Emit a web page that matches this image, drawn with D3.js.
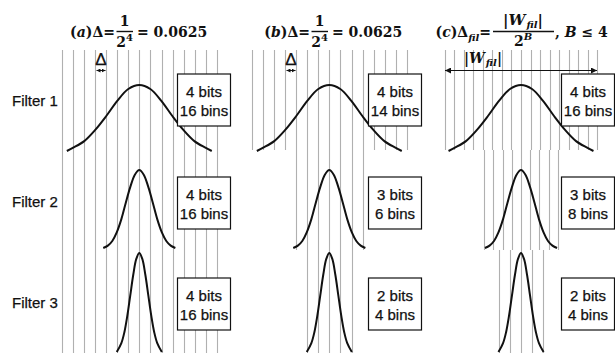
<!DOCTYPE html>
<meta charset="utf-8">
<script src="https://d3js.org/d3.v7.min.js"></script>
<style>
  body { margin: 0; background: #fff; }
  svg { display: block; }
  .lbl { font-family: 'Liberation Sans', Arial, sans-serif; fill: #111; stroke: #111; stroke-width: 0.25px; }
  .math { font-family: 'DejaVu Serif', serif; font-weight: bold; fill: #111; }
</style>
<body>
<div id="fig"></div>
<script>

  // rows of the figure
  var filters = ["Filter 1", "Filter 2", "Filter 3"];

  // what the boxes say, per panel (one entry per filter)
  var bitsA = [4, 4, 4], binsA = [16, 16, 16];
  var bitsB = [4, 3, 2], binsB = [14, 6, 4];
  var bitsC = [4, 3, 2], binsC = [16, 8, 4];

  // quantisation grid: number of bin edges drawn and bin width (weight units)
  var edgesA = [15, 15, 15], stepA = [0.0625, 0.0625, 0.0625];
  var edgesB = [15, 7, 5], stepB = [0.0625, 0.0625, 0.0625];
  var edgesC = [17, 9, 5], stepC = [0.0535, 0.052, 0.063];

  // weight distribution of each filter, half profile (weight, relative density)
  var filter1W = [0, 0.062, 0.124, 0.186, 0.248, 0.31, 0.372, 0.408];
  var filter1D = [1, 0.94, 0.76, 0.53, 0.32, 0.15, 0.05, 0];
  var filter2W = [0, 0.025, 0.051, 0.076, 0.101, 0.127, 0.152, 0.177, 0.203];
  var filter2D = [1, 0.94, 0.78, 0.58, 0.37, 0.2, 0.09, 0.03, 0];
  var filter3W = [0, 0.017, 0.034, 0.051, 0.068, 0.084, 0.101, 0.127];
  var filter3D = [1, 0.94, 0.78, 0.57, 0.36, 0.2, 0.09, 0];

  var W = 615, H = 353;
  var svg = d3.select("#fig").append("svg")
    .attr("width", W).attr("height", H);

  var defs = svg.append("defs");
  function addMarker(id, s) {
    defs.append("marker")
      .attr("id", id)
      .attr("viewBox", "0 0 6 6")
      .attr("refX", 6).attr("refY", 3)
      .attr("markerWidth", s).attr("markerHeight", s)
      .attr("markerUnits", "userSpaceOnUse")
      .attr("orient", "auto-start-reverse")
      .append("path").attr("d", "M0,0 L6,3 L0,6 z").attr("fill", "#111");
  }
  addMarker("arrS", 4);
  addMarker("arrL", 6);

  // layout
  var centers = [139.3, 329.3, 521];
  var halfSpan = 88.8;
  var rowTop = [50, 150, 250], rowBot = [150, 250, 353];
  var curveBase = [151, 248, 352], curvePeak = [85, 170, 253];
  var boxX = [177.5, 368.5, 561.5], boxY = [74, 177, 278], boxW = 53, boxH = 52;

  var panels = [
    { bits: bitsA, bins: binsA, edges: edgesA, step: stepA },
    { bits: bitsB, bins: binsB, edges: edgesB, step: stepB },
    { bits: bitsC, bins: binsC, edges: edgesC, step: stepC }
  ];
  var profiles = [
    { w: filter1W, d: filter1D },
    { w: filter2W, d: filter2D },
    { w: filter3W, d: filter3D }
  ];

  function edgeValues(n, s) {
    return d3.range(n).map(function (i) { return (i - (n - 1) / 2) * s; });
  }

  var gridG = svg.append("g");
  var curveG = svg.append("g");
  var boxG = svg.append("g");

  panels.forEach(function (p, pi) {
    var x = d3.scaleLinear().domain([-0.5, 0.5])
      .range([centers[pi] - halfSpan, centers[pi] + halfSpan]);
    p.x = x;

    filters.forEach(function (f, fi) {
      // grid lines
      gridG.selectAll(null)
        .data(edgeValues(p.edges[fi], p.step[fi]))
        .enter().append("line")
        .attr("x1", function (d) { return Math.round(x(d)) + 0.5; })
        .attr("x2", function (d) { return Math.round(x(d)) + 0.5; })
        .attr("y1", rowTop[fi]).attr("y2", rowBot[fi])
        .attr("stroke", "#b0b0b0").attr("stroke-width", 1.1);

      // distribution curve
      var y = d3.scaleLinear().domain([0, 1]).range([curveBase[fi], curvePeak[fi]]);
      var prof = profiles[fi];
      var pts = [];
      for (var i = prof.w.length - 1; i > 0; i--) pts.push([-prof.w[i], prof.d[i]]);
      for (var j = 0; j < prof.w.length; j++) pts.push([prof.w[j], prof.d[j]]);
      curveG.append("path")
        .attr("d", d3.line()
          .x(function (d) { return x(d[0]); })
          .y(function (d) { return y(d[1]); })
          .curve(d3.curveCatmullRom)(pts))
        .attr("fill", "none")
        .attr("stroke", "#111")
        .attr("stroke-width", 2);

      // box with bits / bins
      boxG.append("rect")
        .attr("x", boxX[pi]).attr("y", boxY[fi])
        .attr("width", boxW).attr("height", boxH)
        .attr("fill", "#fff").attr("stroke", "#111").attr("stroke-width", 1.2);
      var cx = boxX[pi] + boxW / 2, cy = boxY[fi] + boxH / 2;
      boxG.append("text").attr("class", "lbl")
        .attr("x", cx).attr("y", cy - 3)
        .attr("text-anchor", "middle").style("font-size", "15px")
        .text(p.bits[fi] + " bits");
      boxG.append("text").attr("class", "lbl")
        .attr("x", cx).attr("y", cy + 16)
        .attr("text-anchor", "middle").style("font-size", "15px")
        .text(p.bins[fi] + " bins");
    });
  });

  // row labels
  svg.selectAll(".rowlbl")
    .data(filters)
    .enter().append("text")
    .attr("class", "lbl rowlbl")
    .attr("x", 12)
    .attr("y", function (d, i) { return [106, 207, 308][i]; })
    .style("font-size", "15px")
    .text(function (d) { return d; });

  // Δ markers in panels (a) and (b)
  [0, 1].forEach(function (pi) {
    var p = panels[pi];
    var e = edgeValues(p.edges[0], p.step[0]);
    var x0 = Math.round(p.x(e[3])) + 1.5, x1 = Math.round(p.x(e[4])) - 0.5;
    svg.append("text").attr("class", "lbl")
      .attr("x", (x0 + x1) / 2).attr("y", 65)
      .attr("text-anchor", "middle").style("font-size", "17px")
      .text("Δ");
    svg.append("line")
      .attr("x1", x0).attr("x2", x1).attr("y1", 70.5).attr("y2", 70.5)
      .attr("stroke", "#111").attr("stroke-width", 1)
      .attr("marker-start", "url(#arrS)").attr("marker-end", "url(#arrS)");
  });

  // |W_fil| span in panel (c)
  var pc = panels[2];
  var ec = edgeValues(pc.edges[0], pc.step[0]);
  svg.append("line")
    .attr("x1", pc.x(ec[0])).attr("x2", pc.x(ec[ec.length - 1]))
    .attr("y1", 70.5).attr("y2", 70.5)
    .attr("stroke", "#111").attr("stroke-width", 1)
    .attr("marker-start", "url(#arrL)").attr("marker-end", "url(#arrL)");
  var wl = svg.append("text").attr("class", "math")
    .attr("x", 483).attr("y", 63).attr("text-anchor", "middle")
    .style("font-size", "14px");
  wl.append("tspan").text("|");
  wl.append("tspan").style("font-style", "italic").text("W");
  wl.append("tspan").style("font-style", "italic").style("font-size", "10px")
    .attr("dx", 1).attr("dy", 3).text("fil");
  wl.append("tspan").attr("dy", -3).text("|");

  // panel titles
  function fracBar(x0, x1) {
    svg.append("line").attr("x1", x0).attr("x2", x1)
      .attr("y1", 31.5).attr("y2", 31.5)
      .attr("stroke", "#111").attr("stroke-width", 1.4);
  }
  function titleAB(letter, dx) {
    var t = svg.append("text").attr("class", "math")
      .attr("x", 115 + dx).attr("y", 37).attr("text-anchor", "end")
      .style("font-size", "14px");
    t.append("tspan").text("(");
    t.append("tspan").style("font-style", "italic").text(letter);
    t.append("tspan").text(")Δ=");
    svg.append("text").attr("class", "math")
      .attr("x", 124.5 + dx).attr("y", 26).attr("text-anchor", "middle")
      .style("font-size", "14px").text("1");
    fracBar(116.5 + dx, 133 + dx);
    var den = svg.append("text").attr("class", "math")
      .attr("x", 124.5 + dx).attr("y", 47).attr("text-anchor", "middle")
      .style("font-size", "14px");
    den.append("tspan").text("2");
    den.append("tspan").style("font-size", "10px").attr("dy", -6).text("4");
    svg.append("text").attr("class", "math")
      .attr("x", 137 + dx).attr("y", 37)
      .style("font-size", "14px").text("= 0.0625");
  }
  titleAB("a", 0);
  titleAB("b", 195);

  var tc = svg.append("text").attr("class", "math")
    .attr("x", 491).attr("y", 37).attr("text-anchor", "end")
    .style("font-size", "14px");
  tc.append("tspan").text("(");
  tc.append("tspan").style("font-style", "italic").text("c");
  tc.append("tspan").text(")Δ");
  tc.append("tspan").style("font-style", "italic").style("font-size", "10px")
    .attr("dy", 4).text("fil");
  tc.append("tspan").attr("dy", -4).text("=");

  var num = svg.append("text").attr("class", "math")
    .attr("x", 523).attr("y", 25).attr("text-anchor", "middle")
    .style("font-size", "15px");
  num.append("tspan").text("|");
  num.append("tspan").style("font-style", "italic").text("W");
  num.append("tspan").style("font-style", "italic").style("font-size", "10px")
    .attr("dx", 1).attr("dy", 3).text("fil");
  num.append("tspan").attr("dy", -3).text("|");
  fracBar(493, 554);
  var denc = svg.append("text").attr("class", "math")
    .attr("x", 523).attr("y", 46).attr("text-anchor", "middle")
    .style("font-size", "14px");
  denc.append("tspan").text("2");
  denc.append("tspan").style("font-style", "italic").style("font-size", "10px")
    .attr("dy", -6).text("B");
  var tail = svg.append("text").attr("class", "math")
    .attr("x", 555).attr("y", 37).style("font-size", "14px");
  tail.append("tspan").text(", ");
  tail.append("tspan").style("font-style", "italic").text("B");
  tail.append("tspan").text(" ≤ 4");

</script>
</body>
